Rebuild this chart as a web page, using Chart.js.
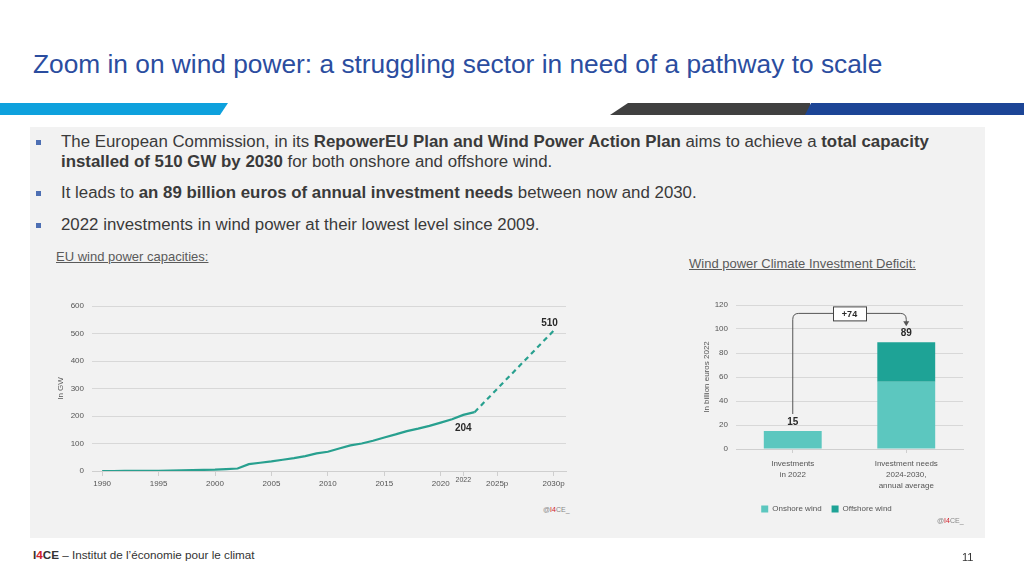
<!DOCTYPE html>
<html><head><meta charset="utf-8">
<script src="https://cdn.jsdelivr.net/npm/chart.js@4.4.1/dist/chart.umd.min.js"></script>
<style>
body{margin:0;width:1024px;height:573px;overflow:hidden;background:#fff;font-family:"Liberation Sans",Arial,sans-serif;position:relative}
.abs{position:absolute;white-space:nowrap}
#title{left:33px;top:49px;font-size:26.3px;color:#2b4d9f;line-height:30px}
.hb{position:absolute;top:103px;height:12px}
#panel{position:absolute;left:30px;top:127px;width:955px;height:411px;background:#f2f2f2}
.bl{font-size:16.85px;color:#3a3a3a;line-height:18px}
.sq{position:absolute;width:5px;height:5px;background:#4d6fb3}
.sub{font-size:13px;color:#5a5a5a;text-decoration:underline;line-height:16px}
.wm{font-size:7px;color:#888;line-height:8px}
.red{color:#d0202a}
</style></head><body>
<div id="title" class="abs">Zoom in on wind power: a struggling sector in need of a pathway to scale</div>
<div class="hb" style="left:0;width:228px;background:#0ea1dd;clip-path:polygon(0 0,100% 0,calc(100% - 8px) 100%,0 100%)"></div>
<div class="hb" style="left:610px;width:200px;background:#404040;clip-path:polygon(18px 0,100% 0,100% 100%,0 100%)"></div>
<div class="hb" style="left:805px;width:219px;background:#1c4596;clip-path:polygon(6px 0,100% 0,100% 100%,0 100%)"></div>
<div id="panel"></div>

<div class="sq" style="left:36px;top:140px"></div>
<div class="abs bl" style="left:61px;top:133px">The European Commission, in its <b>RepowerEU Plan and Wind Power Action Plan</b> aims to achieve a <b>total capacity</b></div>
<div class="abs bl" style="left:61px;top:153px"><b>installed of 510 GW by 2030</b> for both onshore and offshore wind.</div>
<div class="sq" style="left:36px;top:191px"></div>
<div class="abs bl" style="left:61px;top:184px">It leads to <b>an 89 billion euros of annual investment needs</b> between now and 2030.</div>
<div class="sq" style="left:36px;top:223px"></div>
<div class="abs bl" style="left:61px;top:216px">2022 investments in wind power at their lowest level since 2009.</div>

<div class="abs sub" style="left:56px;top:249px">EU wind power capacities:</div>
<div class="abs sub" style="left:689px;top:256px">Wind power Climate Investment Deficit:</div>

<div class="abs" style="left:50px;top:290px;width:525px;height:210px"><canvas id="c1"></canvas></div>
<div class="abs" style="left:690px;top:290px;width:290px;height:235px"><canvas id="c2"></canvas></div>

<div class="abs wm" style="left:543px;top:506px">@<span class="red">I4</span>CE_</div>
<div class="abs wm" style="left:937px;top:517px">@<span class="red">I4</span>CE_</div>

<div class="abs" style="left:33px;top:548px;font-size:11.7px;color:#333"><b>I<span class="red">4</span>CE</b> – Institut de l’économie pour le climat</div>
<div class="abs" style="left:962px;top:551px;font-size:11px;color:#333">11</div>

<script>
// ---- Data: EU wind power capacities (GW) ----
const years = [1990,1991,1992,1993,1994,1995,1996,1997,1998,1999,2000,2001,2002,2003,2004,2005,2006,2007,2008,2009,2010,2011,2012,2013,2014,2015,2016,2017,2018,2019,2020,2021,2022,2023];
const capacity = [0,0,0.5,0.5,1,1,1.5,2,3,4,5,7,9,25,30,35,41,47,54,64,70,82,93,100,110,122,133,145,154,164,176,188,204,214];
const projYears = [2023,2030];
const projCapacity = [214,510];
const tickValues = [1990,1995,2000,2005,2010,2015,2020,2022,2025,2030];
const tickLabels = ['1990','1995','2000','2005','2010','2015','2020','2022','2025p','2030p'];
const capLabelYears = [2022,2030];
const capLabelValues = [204,510];

// ---- Data: Wind power climate investment deficit (bn EUR 2022) ----
const categories = [['Investments','in 2022'],['Investment needs','2024-2030,','annual average']];
const onshore = [15,56];
const offshore = [0,33];
const totals = [15,89];
const gapLabel = '+74';

const FONT = '"Liberation Sans", Arial, sans-serif';
const lineColor = '#28a08f';

const labels1 = {
  id:'labels1',
  afterDatasetsDraw(chart){
    const {ctx, scales:{x,y}} = chart;
    ctx.save();
    ctx.font = 'bold 10px '+FONT;
    ctx.fillStyle = '#2a2a2a';
    ctx.textAlign = 'center';
    ctx.textBaseline = 'middle';
    const offs = [13,-8];
    const dx = [0,-4];
    capLabelYears.forEach((yr,i)=>{
      ctx.fillText(String(capLabelValues[i]), x.getPixelForValue(yr)+dx[i], y.getPixelForValue(capLabelValues[i])+offs[i]);
    });
    // raised small 2022 tick label
    ctx.font = '7px '+FONT;
    ctx.fillStyle = '#555';
    ctx.fillText(tickLabels[7], x.getPixelForValue(tickValues[7]), y.getPixelForValue(0)+9);
    ctx.restore();
  }
};

new Chart(document.getElementById('c1'),{
  type:'line',
  data:{datasets:[
    {data:years.map((v,i)=>({x:v,y:capacity[i]})),borderColor:lineColor,borderWidth:2.2,pointRadius:0,tension:0},
    {data:projYears.map((v,i)=>({x:v,y:projCapacity[i]})),borderColor:lineColor,borderWidth:2.2,borderDash:[5,4],pointRadius:0,tension:0}
  ]},
  options:{
    responsive:true,maintainAspectRatio:false,animation:false,
    layout:{padding:{top:16,right:9,bottom:4,left:0}},
    plugins:{legend:{display:false},tooltip:{enabled:false}},
    scales:{
      x:{type:'linear',min:1989.1,max:2031.1,
        afterBuildTicks(s){s.ticks = tickValues.map(v=>({value:v}));},
        afterFit(s){s.height = 25;},
        ticks:{autoSkip:false,maxRotation:0,padding:3,color:'#555',font:{size:8,family:FONT},
          callback(v,i){return i===7?'':tickLabels[i];}},
        grid:{drawOnChartArea:false,drawTicks:true,tickLength:5,color:'#cfcfcf'},
        border:{display:true,color:'#cfcfcf'}
      },
      y:{min:0,max:600,
        afterFit(s){s.width = 42;},
        ticks:{stepSize:100,padding:8,color:'#555',font:{size:8,family:FONT}},
        grid:{drawTicks:false,color:'#d8d8d8'},
        border:{display:false},
        title:{display:true,text:'In GW',color:'#555',font:{size:8,family:FONT},padding:{top:6,bottom:0}}
      }
    }
  },
  plugins:[labels1]
});

const labels2 = {
  id:'labels2',
  afterDatasetsDraw(chart){
    const {ctx, scales:{x,y}} = chart;
    ctx.save();
    ctx.font = 'bold 10px '+FONT;
    ctx.fillStyle = '#2a2a2a';
    ctx.textAlign = 'center';
    ctx.textBaseline = 'middle';
    totals.forEach((t,i)=>ctx.fillText(String(t), x.getPixelForValue(i), y.getPixelForValue(t)-9));
    const x1 = x.getPixelForValue(0), x2 = x.getPixelForValue(1);
    const yTop = y.getPixelForValue(113);
    const yStart = y.getPixelForValue(totals[0])-17;
    const yTip = y.getPixelForValue(totals[1])-16;
    const r = 6;
    const mid = (x1+x2)/2, bw = 33, bh = 14;
    ctx.strokeStyle = '#555';
    ctx.lineWidth = 1;
    ctx.beginPath();
    ctx.moveTo(x1,yStart);
    ctx.lineTo(x1,yTop+r);
    ctx.quadraticCurveTo(x1,yTop,x1+r,yTop);
    ctx.lineTo(mid-bw/2,yTop);
    ctx.moveTo(mid+bw/2,yTop);
    ctx.lineTo(x2-r,yTop);
    ctx.quadraticCurveTo(x2,yTop,x2,yTop+r);
    ctx.lineTo(x2,yTip-4);
    ctx.stroke();
    ctx.fillStyle = '#555';
    ctx.beginPath();
    ctx.moveTo(x2-3,yTip-5);ctx.lineTo(x2+3,yTip-5);ctx.lineTo(x2,yTip);ctx.closePath();ctx.fill();
    ctx.fillStyle = '#fff';
    ctx.fillRect(mid-bw/2,yTop-bh/2,bw,bh);
    ctx.strokeStyle = '#444';
    ctx.strokeRect(mid-bw/2+0.5,yTop-bh/2+0.5,bw,bh);
    ctx.fillStyle = '#2a2a2a';
    ctx.font = 'bold 9px '+FONT;
    ctx.fillText(gapLabel, mid, yTop+1);
    ctx.restore();
  }
};

new Chart(document.getElementById('c2'),{
  type:'bar',
  data:{labels:categories,datasets:[
    {label:'Onshore wind',data:onshore,backgroundColor:'#5cc7bf',barPercentage:0.51,categoryPercentage:1},
    {label:'Offshore wind',data:offshore,backgroundColor:'#1ea396',barPercentage:0.51,categoryPercentage:1}
  ]},
  options:{
    responsive:true,maintainAspectRatio:false,animation:false,
    layout:{padding:{top:15,right:17,bottom:2,left:0}},
    plugins:{
      legend:{position:'bottom',labels:{boxWidth:7,boxHeight:7,padding:10,color:'#555',font:{size:8,family:FONT}}},
      tooltip:{enabled:false}
    },
    scales:{
      x:{stacked:true,
        afterFit(s){s.height = 46;},
        ticks:{padding:5,color:'#555',font:{size:8,family:FONT,lineHeight:1.4}},
        grid:{drawOnChartArea:false,offset:false,tickLength:4,color:'#cfcfcf'},
        border:{display:true,color:'#cfcfcf'}
      },
      y:{stacked:true,min:0,max:120,
        afterFit(s){s.width = 46;},
        ticks:{stepSize:20,padding:8,color:'#555',font:{size:8,family:FONT}},
        grid:{drawTicks:false,color:'#d8d8d8'},
        border:{display:false},
        title:{display:true,text:'In billion euros 2022',color:'#555',font:{size:8,family:FONT},padding:{top:12,bottom:0}}
      }
    }
  },
  plugins:[labels2]
});
</script>
</body></html>
